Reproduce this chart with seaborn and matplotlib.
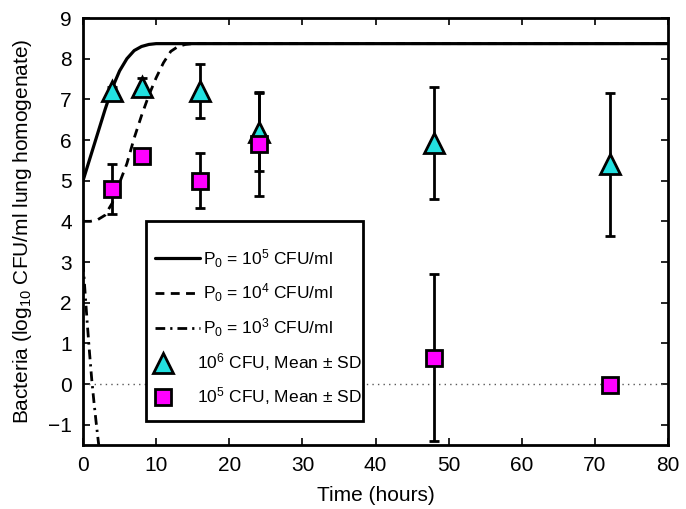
import numpy as np
import pandas as pd
import matplotlib
matplotlib.use("Agg")
import matplotlib.pyplot as plt
from matplotlib.legend_handler import HandlerLine2D
from matplotlib.patches import Rectangle
import seaborn as sns

# Model curves
t_p5 = [0, 1, 2, 3, 4, 5, 6, 7, 8, 9, 10, 11, 12, 80]
v_p5 = [5.0, 5.58, 6.16, 6.74, 7.28, 7.7, 8.0, 8.2, 8.3, 8.35, 8.37, 8.37, 8.37, 8.37]
t_p4 = [0, 1, 2, 3, 4, 5, 6, 7, 8, 9, 10, 11, 12, 13, 14, 15, 80]
v_p4 = [4.0, 4.0, 4.04, 4.15, 4.45, 4.95, 5.42, 6.05, 6.6, 7.1, 7.53, 7.9, 8.18, 8.3, 8.35, 8.37, 8.37]
t_p3 = [0, 0.3, 0.6, 0.9, 1.2, 1.5, 1.8, 2.15]
v_p3 = [3.0, 2.2, 1.45, 0.75, 0.1, -0.45, -0.95, -1.5]

# Measurements
t_obs = [4, 8, 16, 24, 48, 72]
mean_1e6 = [7.2, 7.3, 7.2, 6.2, 5.93, 5.4]
sd_1e6 = [0.1, 0.22, 0.67, 0.96, 1.38, 1.75]
mean_1e5 = [4.8, 5.6, 5.0, 5.9, 0.65, -0.03]
sd_1e5 = [0.62, 0.1, 0.68, 1.28, 2.05, 0.05]

lbl_p5 = r"P$_0$ = 10$^5$ CFU/ml"
lbl_p4 = r"P$_0$ = 10$^4$ CFU/ml"
lbl_p3 = r"P$_0$ = 10$^3$ CFU/ml"
lbl_1e6 = r"10$^6$ CFU, Mean $\pm$ SD"
lbl_1e5 = r"10$^5$ CFU, Mean $\pm$ SD"

sns.set_style("ticks")
plt.rcParams['font.family'] = ['Liberation Sans', 'DejaVu Sans']
plt.rcParams['mathtext.fontset'] = 'custom'
plt.rcParams['mathtext.rm'] = 'Liberation Sans'
plt.rcParams['mathtext.it'] = 'Liberation Sans'
for k in ['text.color', 'axes.labelcolor', 'xtick.color', 'ytick.color', 'axes.edgecolor']:
    plt.rcParams[k] = 'black'


class LeftMarkerHandler(HandlerLine2D):
    def get_xdata(self, legend, xdescent, ydescent, width, height, fontsize):
        xdata = [-xdescent, -xdescent + 0.36 * width]
        return xdata, [-xdescent + 0.18 * width]


fig = plt.figure(figsize=(6.86, 5.09), dpi=100)
ax = fig.add_axes([0.121, 0.1257, 0.853, 0.8389])

df5 = pd.DataFrame({"t": t_p5, "v": v_p5})
df4 = pd.DataFrame({"t": t_p4, "v": v_p4})
df3 = pd.DataFrame({"t": t_p3, "v": v_p3})

ax.axhline(0, color="0.35", lw=1.0, ls=(0, (1, 3)), zorder=1)
sns.lineplot(data=df5, x="t", y="v", ax=ax, color="black", lw=2.3, label=lbl_p5, sort=False, zorder=3)
sns.lineplot(data=df4, x="t", y="v", ax=ax, color="black", lw=2.0, label=lbl_p4, sort=False, zorder=3)
ax.lines[-1].set_dashes([3.2, 2.3])
sns.lineplot(data=df3, x="t", y="v", ax=ax, color="black", lw=2.0, label=lbl_p3, sort=False, zorder=3)
ax.lines[-1].set_dashes([3.5, 1.8, 0.8, 1.8])

ax.errorbar(t_obs, mean_1e6, yerr=sd_1e6, fmt="none", ecolor="black", elinewidth=2, capsize=3.3, capthick=2, zorder=4)
ax.errorbar(t_obs, mean_1e5, yerr=sd_1e5, fmt="none", ecolor="black", elinewidth=2, capsize=3.3, capthick=2, zorder=4)
h6, = ax.plot(t_obs, mean_1e6, ls="none", marker="^", ms=15, mfc="#22E0E0", mec="black", mew=2, label=lbl_1e6, zorder=5)
h5, = ax.plot(t_obs, mean_1e5, ls="none", marker="s", ms=11, mfc="#FF00FF", mec="black", mew=2, label=lbl_1e5, zorder=5)

ax.set_xlim(0, 80)
ax.set_ylim(-1.5, 9)
ax.set_xticks(range(0, 81, 10))
ax.set_yticks(range(-1, 10))
ax.set_yticklabels(["\u22121"] + [str(i) for i in range(0, 10)])
ax.tick_params(direction="in", top=True, right=True, length=5, width=1.2, labelsize=15, pad=8)
for s in ax.spines.values():
    s.set_linewidth(2)
    s.set_color("black")
ax.set_xlabel("Time (hours)", fontsize=15, labelpad=8)
ax.set_ylabel(r"Bacteria (log$_{10}$ CFU/ml lung homogenate)", fontsize=15, labelpad=10)

# legend box
box = Rectangle((0.1077, 0.0562), 0.3709, 0.4684, transform=ax.transAxes, facecolor="white",
                edgecolor="black", lw=2, zorder=6, clip_on=False)
ax.add_patch(box)

handles, labels = ax.get_legend_handles_labels()
leg = ax.legend(handles, labels, loc="upper left", bbox_to_anchor=(0.123, 0.4637),
                fontsize=12.5, frameon=False,
                handlelength=2.6, labelspacing=0.7, borderpad=0, handletextpad=0.15, borderaxespad=0,
                numpoints=1,
                handler_map={h6: LeftMarkerHandler(), h5: LeftMarkerHandler()})
leg.set_zorder(7)
for txt in leg.get_texts()[3:]:
    txt.set_x(-6)

fig.savefig("out.png", dpi=100)
